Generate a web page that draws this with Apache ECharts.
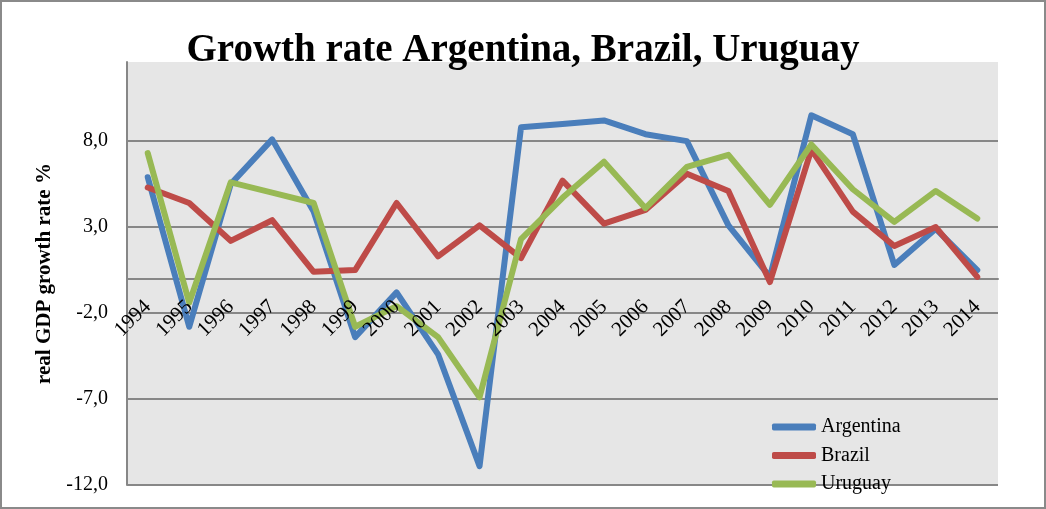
<!DOCTYPE html>
<html><head><meta charset="utf-8">
<script src="https://cdn.jsdelivr.net/npm/echarts@6/dist/echarts.min.js"></script>
<style>html,body{margin:0;padding:0;background:#fff}#c{width:1046px;height:509px}</style>
</head><body><div id="c"></div>
<script>
const years = ['1994','1995','1996','1997','1998','1999','2000','2001','2002','2003','2004','2005','2006','2007','2008','2009','2010','2011','2012','2013','2014'];
const argentina = [5.9, -2.8, 5.5, 8.1, 3.9, -3.4, -0.8, -4.4, -10.9, 8.8, 9.0, 9.2, 8.4, 8.0, 3.1, 0.1, 9.5, 8.4, 0.8, 2.9, 0.5];
const brazil    = [5.3, 4.4, 2.2, 3.4, 0.4, 0.5, 4.4, 1.3, 3.1, 1.2, 5.7, 3.2, 4.0, 6.1, 5.1, -0.2, 7.5, 3.9, 1.9, 3.0, 0.1];
const uruguay   = [7.3, -1.4, 5.6, 5.0, 4.4, -2.8, -1.6, -3.4, -6.9, 2.3, 4.7, 6.8, 4.1, 6.5, 7.2, 4.3, 7.8, 5.2, 3.3, 5.1, 3.5];
const seriesNames = ['Argentina', 'Brazil', 'Uruguay'];
const titleText = 'Growth rate Argentina, Brazil, Uruguay';
const yName = 'real GDP growth rate %';
const yMin = -12, yMax = 12.6, yStep = 5;

const serif = '"Liberation Serif", "DejaVu Serif", serif';
const gridColor = '#878787';
const W = 1046, H = 509;
const grid = {left: 127, right: 48, top: 62, bottom: 24};
const plotH = H - grid.top - grid.bottom;
// move the label axis up to where value 0 sits
const zeroOffset = -plotH * (0 - yMin) / (yMax - yMin);

const chart = echarts.init(document.getElementById('c'), null, {renderer: 'canvas'});
const mk = (name, data, color) => ({
  name, type: 'line', data, symbol: 'none', smooth: false,
  lineStyle: {color, width: 6, cap: 'round', join: 'round'},
  itemStyle: {color}
});
chart.setOption({
  animation: false,
  backgroundColor: '#fff',
  title: {
    text: titleText, left: 'center', top: 26,
    textStyle: {fontFamily: serif, fontWeight: 'bold', fontSize: 39, color: '#000'}
  },
  grid: Object.assign({show: true, backgroundColor: '#e6e6e6', borderWidth: 0,
         containLabel: false, outerBoundsMode: 'none'}, grid),
  legend: {
    orient: 'vertical', left: 767, top: 412, itemGap: 8.5,
    itemWidth: 44, itemHeight: 7, icon: 'roundRect',
    textStyle: {fontFamily: serif, fontSize: 20, color: '#000'},
    data: seriesNames
  },
  xAxis: [{
    type: 'category', data: years, boundaryGap: true,
    axisLine: {show: true, onZero: true, lineStyle: {color: gridColor, width: 2}},
    axisTick: {show: false},
    axisLabel: {show: false},
    splitLine: {show: false}
  }, {
    type: 'category', data: years, boundaryGap: true, position: 'bottom', offset: zeroOffset, z: 10,
    axisLine: {show: false, onZero: false},
    axisTick: {show: false},
    axisLabel: {rotate: 45, margin: 25, fontFamily: serif, fontSize: 21, color: '#000', interval: 0},
    splitLine: {show: false}
  }],
  yAxis: {
    type: 'value', min: yMin, max: yMax, interval: yStep,
    name: yName, nameLocation: 'middle', nameGap: 66, nameRotate: 90,
    nameTextStyle: {fontFamily: serif, fontWeight: 'bold', fontSize: 21, color: '#000'},
    axisLine: {show: true, lineStyle: {color: gridColor, width: 2}},
    axisTick: {show: false},
    axisLabel: {
      margin: 19, fontFamily: serif, fontSize: 20, color: '#000', showMaxLabel: false,
      formatter: v => (Math.abs(v - yMax) < 1e-6 ? '' : v.toFixed(1).replace('.', ','))
    },
    splitLine: {show: true, showMaxLine: false, lineStyle: {color: gridColor, width: 2}}
  },
  graphic: [{
    type: 'rect', silent: true, z: 100,
    shape: {x: 1, y: 1, width: W - 2, height: H - 2},
    style: {fill: 'none', stroke: '#8a8a8a', lineWidth: 2}
  }],
  series: [
    mk(seriesNames[0], argentina, '#4a7ebb'),
    mk(seriesNames[1], brazil, '#be4b48'),
    mk(seriesNames[2], uruguay, '#98b954')
  ]
});
</script></body></html>
